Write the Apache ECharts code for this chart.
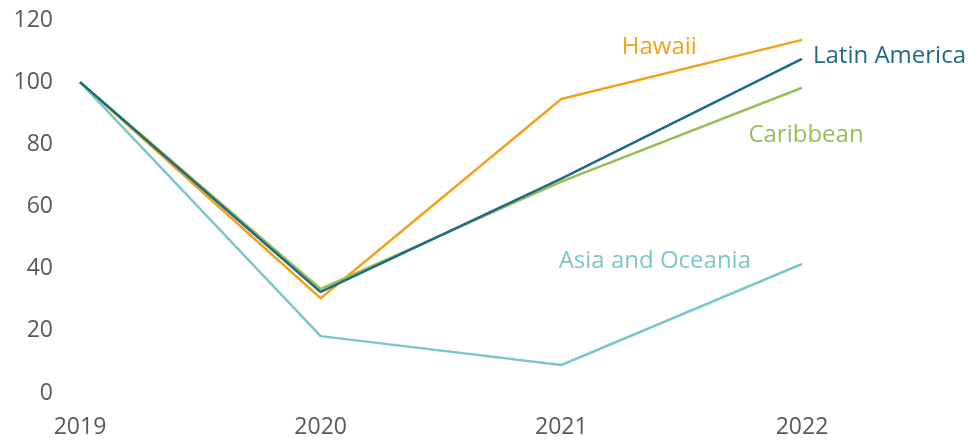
<!DOCTYPE html>
<html><head><meta charset="utf-8">
<script src="https://cdn.jsdelivr.net/npm/echarts@6/dist/echarts.min.js"></script>
<style>html,body{margin:0;padding:0;background:#fff}#c{width:971px;height:445px}</style>
</head><body><div id="c"></div>
<script>
const years = ['2019','2020','2021','2022'];
const hawaii = [100, 30.5, 94.6, 113.6];
const latinAmerica = [100, 32.5, 69, 107.5];
const caribbean = [100, 33.5, 68, 98.2];
const asiaOceania = [100, 18.3, 9.0, 41.5];
const yTicks = [0, 20, 40, 60, 80, 100, 120];

const font = 'Open Sans';
function mk(name, data, color, labelIdx, labelOpt) {
  return {
    name, type: 'line',
    data: data.map((v, i) => i === labelIdx ? {value: v, label: Object.assign({show: true, formatter: name, color, fontFamily: font, fontSize: 24}, labelOpt)} : v),
    symbol: 'circle', symbolSize: 0, showSymbol: true,
    lineStyle: {color, width: 2.5}, itemStyle: {color},
    label: {show: false}, animation: false
  };
}
const chart = echarts.init(document.getElementById('c'));
chart.setOption({
  animation: false,
  grid: {left: 80, right: 169, top: 20, bottom: 52},
  xAxis: {type: 'category', data: years, boundaryGap: false,
    axisLine: {show: false}, axisTick: {show: false},
    axisLabel: {color: '#595959', fontFamily: font, fontSize: 23, margin: 23}},
  yAxis: {type: 'value', min: yTicks[0], max: yTicks[yTicks.length-1], interval: 20,
    splitLine: {show: false}, axisLine: {show: false}, axisTick: {show: false},
    axisLabel: {color: '#595959', fontFamily: font, fontSize: 23, margin: 27}},
  series: [
    mk('Hawaii', hawaii, '#F5A11C', 2, {position: 'top', offset: [98, -35]}),
    mk('Asia and Oceania', asiaOceania, '#7CC7CB', 3, {position: 'left', offset: [-46, -3]}),
    mk('Caribbean', caribbean, '#9BBD57', 3, {position: 'bottom', offset: [4, 30]}),
    mk('Latin America', latinAmerica, '#1F6B84', 3, {position: 'right', offset: [6, -3]})
  ]
});
</script></body></html>
